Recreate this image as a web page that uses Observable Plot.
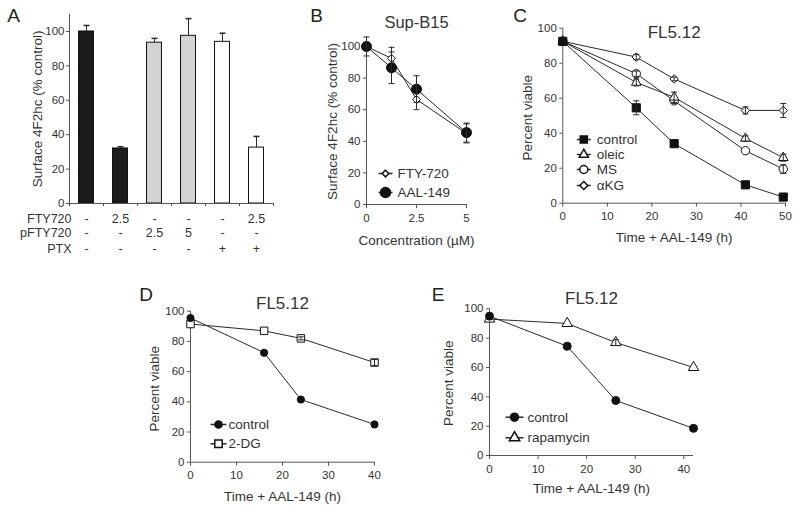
<!DOCTYPE html>
<html><head><meta charset="utf-8">
<script src="https://cdn.jsdelivr.net/npm/d3@7"></script>
<script src="https://cdn.jsdelivr.net/npm/@observablehq/plot@0.6"></script>
<style>
body{margin:0;background:#fff;}
#root{position:relative;width:800px;height:510px;font-family:"Liberation Sans",Arial,sans-serif;color:#222;overflow:hidden;}
.panel{position:absolute;}
.letter{position:absolute;font-size:19px;transform:translate(-50%,-50%);line-height:1;}
</style></head><body><div id="root"></div>
<script>
// ---------- Panel A data ----------
const aValues = [100, 32, 93.5, 97.5, 94, 32.5];
const aErrors = [3.5, 1, 2.5, 10, 5, 6.5];
const aGroups = ["black", "black", "gray", "gray", "white", "white"];
const aRowNames = ["FTY720", "pFTY720", "PTX"];
const aFTY = ["-", "2.5", "-", "-", "-", "2.5"];
const aPFTY = ["-", "-", "2.5", "5", "-", "-"];
const aPTX = ["-", "-", "-", "-", "+", "+"];
const aYTicks = [0, 20, 40, 60, 80, 100];

// ---------- Panel B data ----------
const bConc = [0, 1.25, 2.5, 5];
const bFTY = [100, 92.5, 66.5, 45];
const bFTYerr = [0, 7, 6.5, 6];
const bAAL = [100, 86.5, 73, 45.5];
const bAALerr = [6, 10, 8.5, 6];
const bXTicks = [0, 2.5, 5];
const bYTicks = [0, 20, 40, 60, 80, 100];

// ---------- Panel C data ----------
const cTime = [0, 16.5, 25, 41, 49.5];
const cControl = [92.5, 54.5, 34, 10.5, 3.5];
const cControlErr = [0, 4, 0, 0, 0];
const cOleic = [92.5, 69, 60.5, 37, 26];
const cOleicErr = [0, 2, 3, 1.5, 2];
const cMS = [92.5, 74, 58.5, 30, 19.5];
const cMSErr = [0, 1.5, 1.5, 0, 2.5];
const cAKG = [92.5, 83.5, 71, 53, 53];
const cAKGErr = [0, 1.5, 1, 2, 4];
const cXTicks = [0, 10, 20, 30, 40, 50];
const cYTicks = [0, 20, 40, 60, 80, 100];

// ---------- Panel D data ----------
const dTime = [0, 16, 24, 40];
const dControl = [95.5, 72.5, 41.5, 25];
const d2DG = [91.5, 87, 82, 66];
const d2DGErr = [0, 0, 1, 2];
const dXTicks = [0, 10, 20, 30, 40];
const dYTicks = [0, 20, 40, 60, 80, 100];

// ---------- Panel E data ----------
const eTime = [0, 16, 26, 42];
const eControl = [95, 74.5, 37.5, 18.5];
const eRapa = [93, 90, 77, 60];
const eRapaErr = [0, 0, 2, 0];
const eXTicks = [0, 10, 20, 30, 40];
const eYTicks = [0, 20, 40, 60, 80, 100];

const FONT = "'Liberation Sans', Arial, sans-serif";
const INK = "#2a2a2a";
const TXT = "#333";
const AX = "#555";
const root = document.getElementById("root");

function hline(half) { return {draw(ctx) { ctx.moveTo(-half, 0); ctx.lineTo(half, 0); }}; }
const cap = hline(3);

function place(svg, left, top) {
  const div = document.createElement("div");
  div.className = "panel";
  div.style.left = left + "px";
  div.style.top = top + "px";
  div.appendChild(svg);
  root.appendChild(div);
}
function letter(t, x, y) {
  const d = document.createElement("div");
  d.className = "letter";
  d.textContent = t;
  d.style.left = x + "px";
  d.style.top = y + "px";
  root.appendChild(d);
}

function axes(xTicks, yTicks, xmin, ymin, ymax) {
  return [
    Plot.ruleX([xmin], {y1: ymin, y2: ymax, stroke: AX}),
    Plot.ruleY([ymin], {stroke: AX}),
    Plot.axisY(yTicks, {tickSize: 3, tickPadding: 3, fontSize: 11.5, label: null, stroke: AX, fill: TXT, tickFormat: d => String(d)}),
    Plot.axisX(xTicks, {tickSize: 4, tickPadding: 5, fontSize: 11.5, label: null, stroke: AX, fill: TXT, tickFormat: d => String(d)})
  ];
}
function labels({title, titleSize = 17, titleDy, ylabel, ylabelDx, ylabelDy = 0, xlabel, xlabelDy}) {
  const m = [];
  if (title) m.push(Plot.text([title], {frameAnchor: "top", dy: titleDy, fontSize: titleSize, fill: TXT, textAnchor: "middle", lineAnchor: "middle"}));
  m.push(Plot.text([ylabel], {frameAnchor: "left", dx: ylabelDx, dy: ylabelDy, rotate: -90, fontSize: 13.5, fill: TXT, textAnchor: "middle", lineAnchor: "middle"}));
  m.push(Plot.text([xlabel], {frameAnchor: "bottom", dy: xlabelDy, fontSize: 13.5, fill: TXT, textAnchor: "middle", lineAnchor: "middle"}));
  return m;
}
function series(xs, ys, errs, {symbol, fill, r}) {
  const data = xs.map((x, i) => ({x, y: ys[i], e: errs ? errs[i] : 0}));
  const withErr = data.filter(d => d.e > 0);
  return [
    Plot.line(data, {x: "x", y: "y", stroke: INK, strokeWidth: 1}),
    Plot.dot(data, {x: "x", y: "y", symbol, r, fill, stroke: "#111", strokeWidth: 1}),
    Plot.ruleX(withErr, {x: "x", y1: d => d.y - d.e, y2: d => d.y + d.e, stroke: INK, strokeWidth: 1}),
    Plot.dot(withErr, {x: "x", y: d => d.y + d.e, symbol: cap, fill: "none", stroke: INK, strokeWidth: 1}),
    Plot.dot(withErr, {x: "x", y: d => d.y - d.e, symbol: cap, fill: "none", stroke: INK, strokeWidth: 1})
  ];
}
function legend(items, {dxMark, dxText, dys, half}) {
  const m = [];
  items.forEach((it, i) => {
    m.push(Plot.dot([0], {frameAnchor: "bottom-left", dx: dxMark, dy: dys[i], symbol: hline(half), fill: "none", stroke: INK}));
    m.push(Plot.dot([0], {frameAnchor: "bottom-left", dx: dxMark, dy: dys[i], symbol: it.symbol, r: it.r, fill: it.fill, stroke: "#111"}));
    m.push(Plot.text([it.label], {frameAnchor: "bottom-left", dx: dxText, dy: dys[i], textAnchor: "start", lineAnchor: "middle", fontSize: 13.5, fill: TXT}));
  });
  return m;
}
const baseStyle = {fontFamily: FONT, background: "transparent", overflow: "visible", color: "#333"};

// ================= Panel A =================
{
  const data = aValues.map((v, i) => ({i, v, e: aErrors[i], g: aGroups[i]}));
  const fills = {black: "#1b1b1b", gray: "#d2d3d3", white: "#ffffff"};
  const rows = [aFTY, aPFTY, aPTX];
  const rowDy = [15.3, 29.8, 45];
  const marks = [
    Plot.rect(data, {x1: d => d.i + 0.28, x2: d => d.i + 0.72, y1: 0, y2: "v", fill: d => fills[d.g], stroke: "#111", strokeWidth: 1}),
    Plot.ruleX(data, {x: d => d.i + 0.5, y1: "v", y2: d => d.v + d.e, stroke: INK}),
    Plot.dot(data, {x: d => d.i + 0.5, y: d => d.v + d.e, symbol: cap, fill: "none", stroke: INK}),
    Plot.ruleX([0], {y1: 0, y2: 110, stroke: AX}),
    Plot.ruleY([0], {stroke: AX}),
    Plot.axisY(aYTicks, {tickSize: 3, tickPadding: 2, fontSize: 11.5, label: null, stroke: AX, fill: TXT}),
    Plot.axisX(d3.range(0, 7), {tickSize: 3, tickFormat: () => "", label: null, stroke: AX}),
    Plot.text(["Surface 4F2hc (% control)"], {frameAnchor: "left", dx: -32, dy: 0, rotate: -90, fontSize: 13.5, fill: TXT, textAnchor: "middle", lineAnchor: "middle"})
  ];
  rows.forEach((row, k) => {
    marks.push(Plot.text(row, {x: (d, i) => i + 0.5, y: 0, dy: rowDy[k], fontSize: 12.5, fill: TXT, lineAnchor: "middle"}));
    marks.push(Plot.text([aRowNames[k]], {frameAnchor: "bottom-left", dx: 2, dy: rowDy[k], textAnchor: "end", lineAnchor: "middle", fontSize: 12.5, fill: TXT}));
  });
  place(Plot.plot({
    width: 290, height: 260,
    marginLeft: 69, marginRight: 17, marginTop: 13.8, marginBottom: 57,
    x: {domain: [0, 6], axis: null},
    y: {domain: [0, 110], axis: null},
    style: baseStyle,
    marks
  }), 0, 0);
}

// ================= Panel B =================
place(Plot.plot({
  width: 200, height: 260,
  marginLeft: 76, marginRight: 24, marginTop: 46, marginBottom: 56,
  x: {domain: [0, 5], axis: null},
  y: {domain: [0, 100], axis: null},
  style: baseStyle,
  marks: [
    ...axes(bXTicks, bYTicks, 0, 0, 101),
    ...labels({title: "Sup-B15", titleSize: 16.5, titleDy: -24, ylabel: "Surface 4F2hc (% control)", ylabelDx: -34, ylabelDy: -4, xlabel: "Concentration (\u00b5M)", xlabelDy: 36}),
    ...series(bConc, bFTY, bFTYerr, {symbol: "diamond2", fill: "white", r: 3.6}),
    ...series(bConc, bAAL, bAALerr, {symbol: "circle", fill: "#111", r: 5}),
    ...legend([
      {label: "FTY-720", symbol: "diamond2", fill: "white", r: 3},
      {label: "AAL-149", symbol: "circle", fill: "#111", r: 5}
    ], {dxMark: 19, dxText: 31, dys: [-31, -12], half: 7})
  ]
}), 290, 0);

// ================= Panel C =================
place(Plot.plot({
  width: 280, height: 260,
  marginLeft: 42.3, marginRight: 15, marginTop: 27.7, marginBottom: 57.3,
  x: {domain: [0, 50], axis: null},
  y: {domain: [0, 100], axis: null},
  style: baseStyle,
  marks: [
    ...axes(cXTicks, cYTicks, 0, 0, 100),
    ...labels({title: "FL5.12", titleDy: 4.3, ylabel: "Percent viable", ylabelDx: -35.3, ylabelDy: 2, xlabel: "Time + AAL-149 (h)", xlabelDy: 34.3}),
    ...series(cTime, cAKG, cAKGErr, {symbol: "diamond2", fill: "white", r: 3.8}),
    ...series(cTime, cMS, cMSErr, {symbol: "circle", fill: "white", r: 4.2}),
    ...series(cTime, cOleic, cOleicErr, {symbol: "triangle", fill: "white", r: 3.6}),
    ...series(cTime, cControl, cControlErr, {symbol: "square", fill: "#111", r: 4.6}),
    ...legend([
      {label: "control", symbol: "square", fill: "#111", r: 4},
      {label: "oleic", symbol: "triangle", fill: "white", r: 3.4},
      {label: "MS", symbol: "circle", fill: "white", r: 4},
      {label: "\u03b1KG", symbol: "diamond2", fill: "white", r: 3.6}
    ], {dxMark: 21, dxText: 34, dys: [-63.7, -48.7, -33.7, -17.7], half: 7})
  ]
}), 520, 0);

// ================= Panel D =================
place(Plot.plot({
  width: 250, height: 260,
  marginLeft: 50, marginRight: 16, marginTop: 60.7, marginBottom: 48.3,
  x: {domain: [0, 40], axis: null},
  y: {domain: [0, 100], axis: null},
  style: baseStyle,
  marks: [
    ...axes(dXTicks, dYTicks, 0, 0, 100),
    ...labels({title: "FL5.12", titleDy: -7.7, ylabel: "Percent viable", ylabelDx: -36, ylabelDy: 2, xlabel: "Time + AAL-149 (h)", xlabelDy: 34.3}),
    ...series(dTime, d2DG, d2DGErr, {symbol: "square", fill: "white", r: 4.2}),
    ...series(dTime, dControl, null, {symbol: "circle", fill: "#111", r: 3.6}),
    ...legend([
      {label: "control", symbol: "circle", fill: "#111", r: 3.6},
      {label: "2-DG", symbol: "square", fill: "white", r: 4.2}
    ], {dxMark: 28, dxText: 38, dys: [-37.7, -18.4], half: 8})
  ]
}), 140, 250);

// ================= Panel E =================
place(Plot.plot({
  width: 280, height: 260,
  marginLeft: 49, marginRight: 27, marginTop: 58.3, marginBottom: 55,
  x: {domain: [0, 42], axis: null},
  y: {domain: [0, 100], axis: null},
  style: baseStyle,
  marks: [
    ...axes(eXTicks, eYTicks, 0, 0, 100),
    ...labels({title: "FL5.12", titleDy: -10.3, ylabel: "Percent viable", ylabelDx: -41, ylabelDy: 1, xlabel: "Time + AAL-149 (h)", xlabelDy: 33}),
    ...series(eTime, eRapa, eRapaErr, {symbol: "triangle", fill: "white", r: 3.9}),
    ...series(eTime, eControl, null, {symbol: "circle", fill: "#111", r: 4}),
    ...legend([
      {label: "control", symbol: "circle", fill: "#111", r: 4},
      {label: "rapamycin", symbol: "triangle", fill: "white", r: 3.9}
    ], {dxMark: 25, dxText: 38, dys: [-38.3, -17.7], half: 9})
  ]
}), 440, 250);

// Panel letters
letter("A", 13.5, 15);
letter("B", 316.5, 15);
letter("C", 520, 15);
letter("D", 146, 294);
letter("E", 438, 294);
</script>
</body></html>
